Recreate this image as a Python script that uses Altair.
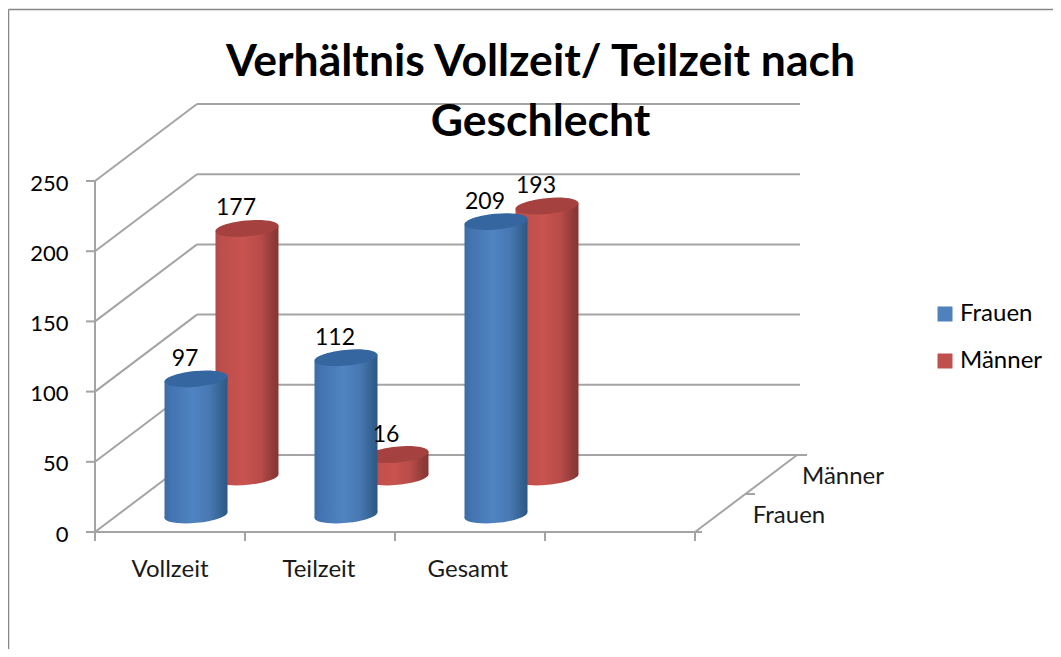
import altair as alt
import pandas as pd

categories = ["Vollzeit", "Teilzeit", "Gesamt"]
frauen = [97, 112, 209]
maenner = [177, 16, 193]
series = ["Frauen", "Männer"]
value_ticks = [0, 50, 100, 150, 200, 250]
slot_ticks = [0, 1, 2, 3, 4]
title_lines = ["Verhältnis Vollzeit/ Teilzeit nach", "Geschlecht"]

W, H = 1045, 641
FONT = "Lato"
GRID = "#a4a4a4"

# page pixel -> data units of the shared linear scales
PXU, PXV = 150.0, 1.404
U = lambda px: (px - 95) / PXU
V = lambda py: (532 - py) / PXV
xs = alt.Scale(domain=[U(8), U(8 + W)], nice=False, zero=False)
ys = alt.Scale(domain=[V(8 + H), V(8)], nice=False, zero=False)
DX = 102 / PXU   # depth of the floor
DY = 77 / PXV
X = alt.X("x:Q", scale=xs, axis=None)
Y = alt.Y("y:Q", scale=ys, axis=None)

# wall, floor and frame lines
seg = []
def add(x0, y0, x1, y1):
    i = len(seg) // 2
    seg.extend([dict(x=x0, y=y0, id=i), dict(x=x1, y=y1, id=i)])

for t in value_ticks:
    add(0, t, DX, t + DY)
    add(DX, t + DY, U(800), t + DY)
    add(U(86), t, 0, t)
add(0, V(181), 0, V(541))
add(U(87), 0, U(702), 0)
add(U(695), 0, U(797), DY)
add(U(797), DY, U(807), DY)
add(U(746), V(494), U(755), V(494))
for s in slot_ticks:
    add(s, 0, s, V(541))

lines = alt.Chart(pd.DataFrame(seg)).mark_line(color=GRID, strokeWidth=2).encode(X, Y, detail="id:N")

frame_seg = [dict(x=U(8.5), y=V(9.5), id=0), dict(x=U(8 + W), y=V(9.5), id=0),
             dict(x=U(8.5), y=V(9.5), id=1), dict(x=U(8.5), y=V(8 + H), id=1)]
frame = alt.Chart(pd.DataFrame(frame_seg)).mark_line(color="#868686", strokeWidth=1.5).encode(X, Y, detail="id:N")

# cylinders
BW = 63.0
TILT = 3.0
ELL = "M -1 0.095 A 1 0.25 -5.4 1 0 1 -0.095 A 1 0.25 -5.4 1 0 -1 0.095 Z"
def grad(stops):
    return alt.Gradient(gradient="linear", x1=0, x2=1, y1=0, y2=0,
                        stops=[alt.GradientStop(offset=o, color=c) for o, c in stops])
BLUE = grad([(0, "#3a6ca6"), (0.1, "#4474b0"), (0.45, "#4f83c2"), (0.72, "#4878b2"), (0.92, "#33618f"), (1, "#2d5886")])
RED = grad([(0, "#b44a47"), (0.1, "#bd4e4b"), (0.45, "#c9534f"), (0.72, "#b74b48"), (0.92, "#8f3a38"), (1, "#853634")])

def cylinders(vals, cx_px, base_py, fill, top):
    base_v = V(base_py)
    body, tops, bases = [], [], []
    half = BW / 2 / PXU
    dt = TILT / PXV
    for i, v in enumerate(vals):
        cx = i + U(cx_px)
        body.append(dict(x=cx - half, y=base_v + v - dt, y2=base_v - dt, id=i))
        body.append(dict(x=cx + half, y=base_v + v + dt, y2=base_v + dt, id=i))
        bases.append(dict(x=cx, y=base_v))
        tops.append(dict(x=cx, y=base_v + v))
    bot = alt.Chart(pd.DataFrame(bases)).mark_point(shape=ELL, size=BW ** 2, filled=True, fill=fill, opacity=1, strokeWidth=0).encode(X, Y)
    bod = alt.Chart(pd.DataFrame(body)).mark_area(fill=fill, opacity=1).encode(X, Y, y2="y2:Q", detail="id:N")
    tp = alt.Chart(pd.DataFrame(tops)).mark_point(shape=ELL, size=BW ** 2, filled=True, fill=top, opacity=1, strokeWidth=0).encode(X, Y)
    return bot + bod + tp

cyl_m = cylinders(maenner, 247, 477, RED, "#a5413e")
cyl_f = cylinders(frauen, 196, 515, BLUE, "#35669f")

# value labels
lab = []
for i, (f, m) in enumerate(zip(frauen, maenner)):
    lab.append(dict(x=i + U(196), y=V(515) + f, t=str(f)))
    lab.append(dict(x=i + U(247), y=V(477) + m, t=str(m)))
labels = alt.Chart(pd.DataFrame(lab)).mark_text(font=FONT, fontSize=23, color="#000000", dx=-11, dy=-20).encode(X, Y, text="t:N")

# category and depth labels
cat = pd.DataFrame([dict(x=i + 0.5 - (0.007 * i), y=V(569.5), t=c) for i, c in enumerate(categories)])
cat_text = alt.Chart(cat).mark_text(font=FONT, fontSize=24, color="#1a1a1a").encode(X, Y, text="t:N")
dep = pd.DataFrame([dict(x=U(789), y=V(516), t=series[0]), dict(x=U(843), y=V(477), t=series[1])])
dep_text = alt.Chart(dep).mark_text(font=FONT, fontSize=24, color="#1a1a1a").encode(X, Y, text="t:N")

# real value axis and legend
axis_layer = alt.Chart(pd.DataFrame(dict(y=value_ticks))).mark_point(size=0, opacity=0).encode(
    x=alt.X("y:Q", scale=xs, axis=None, title=None),
    y=alt.Y("y:Q", scale=ys, title=None, axis=alt.Axis(
        values=value_ticks, offset=-87, domain=False, grid=False, ticks=False,
        labelPadding=27, labelOffset=2, labelFont=FONT, labelFontSize=22, labelColor="#000000")),
)
legend_layer = alt.Chart(pd.DataFrame(dict(s=series, y=[0, 0], x=[0, 0]))).mark_point(size=0, filled=True, opacity=1).encode(
    X, Y,
    color=alt.Color("s:N", scale=alt.Scale(domain=series, range=["#4f81bd", "#c0504d"]),
                    legend=alt.Legend(orient="none", legendX=925, legendY=294, title=None,
                                      symbolType="square", symbolSize=225, symbolStrokeWidth=0,
                                      symbolOpacity=1,
                                      labelFont=FONT, labelFontSize=24, labelColor="#000000",
                                      rowPadding=23, labelOffset=3)),
)

chart = alt.layer(axis_layer, frame, lines, cyl_m, cyl_f, labels, cat_text, dep_text, legend_layer).resolve_axis(
    y="independent"
).properties(
    width=W, height=H, padding=0, autosize=alt.AutoSizeParams(type="none"),
    title=alt.TitleParams(text=title_lines, font=FONT, fontSize=44.5, fontWeight="bold", color="#000000",
                          anchor="middle", dx=10, dy=143, lineHeight=60),
).configure_view(stroke=None)

chart.save("out.html", embed_options={"renderer": "svg", "actions": False})
